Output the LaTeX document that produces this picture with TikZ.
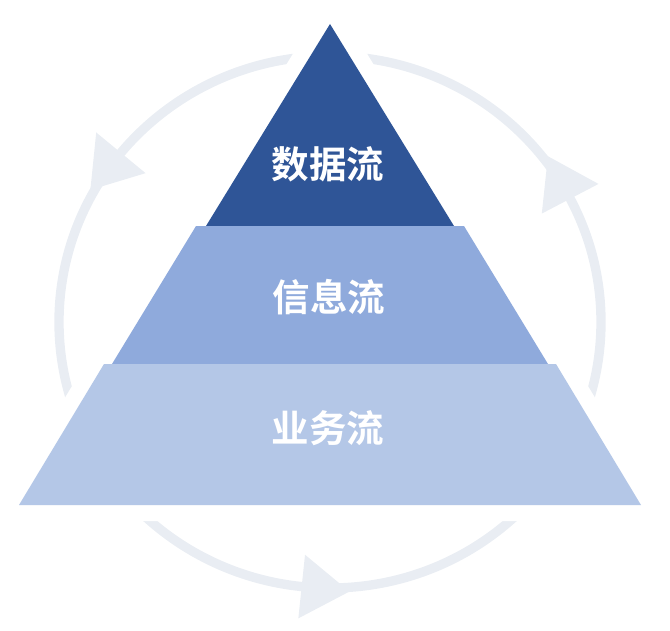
\documentclass[tikz,border=0pt]{standalone}
\usepackage{fontspec}
\newfontfamily\cjk{Noto Sans CJK SC}[BoldFont={Noto Sans CJK SC Bold}]
\definecolor{topblue}{HTML}{2F5597}
\definecolor{midblue}{HTML}{8FAADC}
\definecolor{lowblue}{HTML}{B4C7E7}
\definecolor{ringgray}{HTML}{E9EDF3}

\begin{document}
\begin{tikzpicture}[x=0.03cm,y=0.03cm,
    ring/.style={draw=ringgray,line width=0.28cm},
    head/.style={fill=ringgray},
    halo/.style={draw=white,fill=white,line width=0.96cm,line join=round},
    lbl/.style={text=white,font=\cjk\bfseries\fontsize{32}{38}\selectfont}]

    \useasboundingbox (0,0) rectangle (670,630);

    % cycle behind the pyramid
    \draw[ring] (330,308) ellipse [x radius=271,y radius=266];
    \foreach \a in {27.6,140.5,264}
        \fill[head,shift={(330,308)},shift={(\a:271 and 266)},rotate=\a] (-32,0) -- (32,0) -- (0,48) -- cycle;

    % white margin round the pyramid
    \draw[halo] (330,606) -- (454,404) -- (464,404) -- (548,266) -- (556,266) -- (641,125)
        -- (19,125) -- (104,266) -- (112,266) -- (196,404) -- (206,404) -- cycle;

    \fill[topblue] (330,606) -- (454,404) -- (206,404) -- cycle;
    \fill[midblue] (196,404) -- (464,404) -- (548,266) -- (112,266) -- cycle;
    \fill[lowblue] (104,266) -- (556,266) -- (641,125) -- (19,125) -- cycle;

    \node[lbl] (data) at (328,465.5) {数据流};
    \node[lbl] (info) at (329,333) {信息流};
    \node[lbl] (biz) at (328,202) {业务流};

\end{tikzpicture}
\end{document}
